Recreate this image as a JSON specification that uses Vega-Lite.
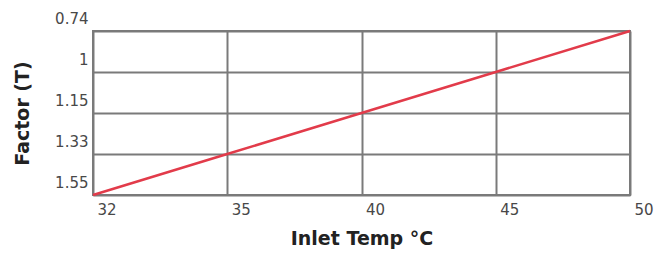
{
  "$schema": "https://vega.github.io/schema/vega-lite/v6.json",
  "width": 537,
  "height": 164,
  "autosize": {"type": "none"},
  "padding": {"left": 93, "top": 31, "right": 31, "bottom": 62},
  "background": "white",
  "config": {
    "view": {"stroke": "#7a7a7a", "strokeWidth": 2},
    "axis": {
      "gridColor": "#7a7a7a",
      "gridWidth": 2,
      "gridOpacity": 1,
      "domain": false,
      "ticks": false,
      "labelFont": "DejaVu Sans",
      "labelFontSize": 15,
      "labelColor": "#484848",
      "titleFont": "DejaVu Sans",
      "titleFontSize": 19,
      "titleFontWeight": "bold",
      "titleColor": "#222222"
    }
  },
  "data": {
    "values": [
      {"temp": "32", "factor": "1.55"},
      {"temp": "35", "factor": "1.33"},
      {"temp": "40", "factor": "1.15"},
      {"temp": "45", "factor": "1"},
      {"temp": "50", "factor": "0.74"}
    ]
  },
  "mark": {"type": "line", "color": "#e23b4a", "strokeWidth": 2.5},
  "encoding": {
    "x": {
      "field": "temp",
      "type": "ordinal",
      "sort": ["32", "35", "40", "45", "50"],
      "scale": {"type": "point", "padding": 0},
      "axis": {
        "title": "Inlet Temp °C",
        "labelAngle": 0,
        "labelAlign": "left",
        "labelOffset": 4,
        "labelPadding": 7,
        "titlePadding": 12,
        "grid": true
      }
    },
    "y": {
      "field": "factor",
      "type": "ordinal",
      "sort": ["0.74", "1", "1.15", "1.33", "1.55"],
      "scale": {"type": "point", "padding": 0},
      "axis": {
        "title": "Factor (T)",
        "labelBaseline": "middle",
        "labelOffset": -13,
        "labelPadding": 5,
        "titlePadding": 22,
        "grid": true
      }
    }
  }
}
